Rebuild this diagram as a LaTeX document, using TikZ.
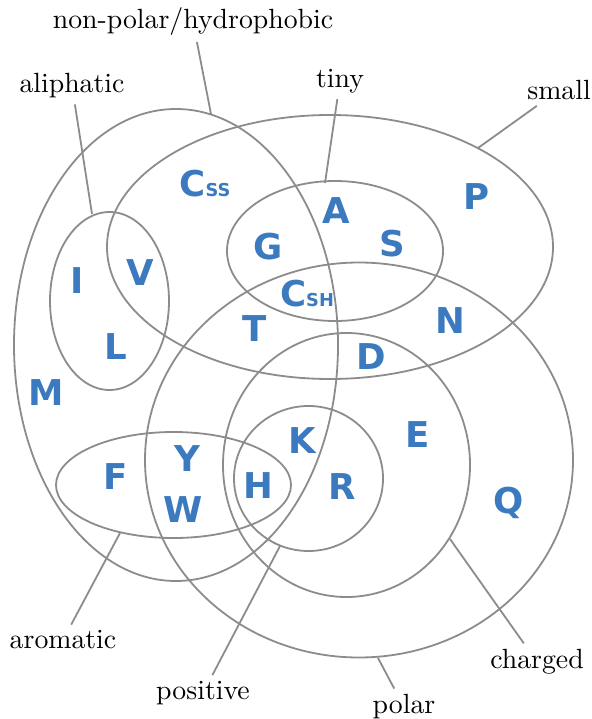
\documentclass[tikz,border=0pt]{standalone}
\usepackage{fontspec}
\newfontfamily\aafont{DejaVu Sans}
\usepackage{xcolor}
\definecolor{aablue}{RGB}{59,122,190}
\definecolor{rim}{RGB}{140,140,140}
\usetikzlibrary{positioning}
\newcommand\aasub[1]{{\fontsize{6.4}{7}\selectfont #1}}

\begin{document}
\begin{tikzpicture}[
  x=0.36pt, y=-0.36pt,
  set/.style={draw=rim, line width=0.65pt},
  lead/.style={draw=rim, line width=0.65pt},
  lbl/.style={font=\fontsize{10}{12}\selectfont, inner sep=2pt},
  aa/.style={font=\aafont\bfseries\fontsize{12.8}{14}\selectfont,
             text=aablue, inner sep=0pt},
]
  \useasboundingbox (0,0) rectangle (591,719);

  %% Sets
  \draw[set] (176,345) ellipse [x radius=162, y radius=236];     % hydrophobic
  \draw[set] (330,247) ellipse [x radius=223, y radius=132];     % small
  \draw[set] (335,251) ellipse [x radius=108, y radius=70];      % tiny
  \draw[set] (109.5,301) ellipse [x radius=59.5, y radius=89];   % aliphatic
  \draw[set] (173.5,485) ellipse [x radius=117.5, y radius=53];  % aromatic
  \draw[set] (359,460) ellipse [x radius=214, y radius=197.5];   % polar
  \draw[set] (346.5,465) ellipse [x radius=123.5, y radius=132]; % charged
  \draw[set] (308.5,478.5) ellipse [x radius=74.5, y radius=72.5]; % positive

  %% Points where the leaders touch the sets
  \coordinate (hydro) at (211,114);
  \coordinate (aliph) at (92,214);
  \coordinate (tiny)  at (325,183);
  \coordinate (small) at (478,148);
  \coordinate (arom)  at (120,533);
  \coordinate (posit) at (280,546);
  \coordinate (polar) at (378,658);
  \coordinate (charg) at (450,539);

  %% Set labels
  \node[lbl] (Lhydro) at (193,22)  {non-polar/hydrophobic};
  \node[lbl] (Laliph) at (72,86)   {aliphatic};
  \node[lbl] (Ltiny)  at (340,81)  {tiny};
  \node[lbl] (Lsmall) at (559,90)  {small};
  \node[lbl] (Larom)  at (63,640)  {aromatic};
  \node[lbl] (Lposit) at (203,693) {positive};
  \node[lbl] (Lpolar) at (404,707) {polar};
  \node[lbl] (Lcharg) at (537,662) {charged};

  \draw[lead] (Lhydro) -- (hydro);
  \draw[lead] (Laliph) -- (aliph);
  \draw[lead] (Ltiny)  -- (tiny);
  \draw[lead] (Lsmall) -- (small);
  \draw[lead] (Larom)  -- (arom);
  \draw[lead] (Lposit) -- (posit);
  \draw[lead] (Lpolar) -- (polar);
  \draw[lead] (Lcharg) -- (charg);

  %% Amino acids
  \node[aa] (Css) at (205,184) {C\aasub{SS}};
  \node[aa] (A)   at (336,211) {A};
  \node[aa] (P)   at (477,197) {P};
  \node[aa] (G)   at (268,247) {G};
  \node[aa] (S)   at (392,244) {S};
  \node[aa] (I)   at (77,281)  {I};
  \node[aa] (V)   at (140,273) {V};
  \node[aa] (Csh) at (307,294) {C\aasub{SH}};
  \node[aa] (N)   at (450,321) {N};
  \node[aa] (T)   at (255,329) {T};
  \node[aa] (L)   at (116,347) {L};
  \node[aa] (D)   at (371,357) {D};
  \node[aa] (M)   at (46,393)  {M};
  \node[aa] (E)   at (418,435) {E};
  \node[aa] (K)   at (302,441) {K};
  \node[aa] (Y)   at (187,459) {Y};
  \node[aa] (F)   at (116,477) {F};
  \node[aa] (H)   at (258,486) {H};
  \node[aa] (R)   at (342,487) {R};
  \node[aa] (W)   at (183,510) {W};
  \node[aa] (Q)   at (509,503) {Q};
\end{tikzpicture}
\end{document}
